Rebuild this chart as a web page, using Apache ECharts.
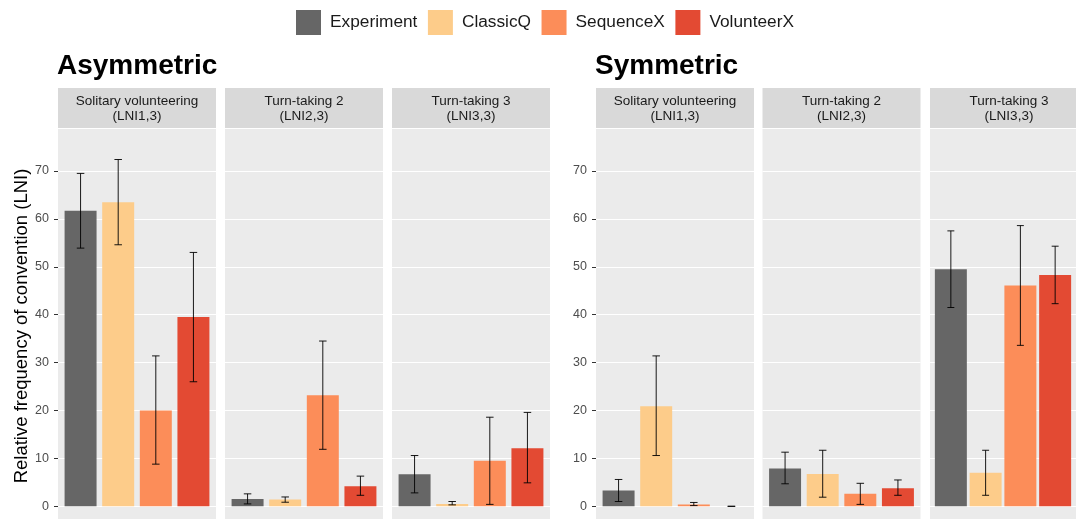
<!DOCTYPE html>
<html><head><meta charset="utf-8">
<script src="https://cdn.jsdelivr.net/npm/echarts@6/dist/echarts.min.js"></script>
<style>html,body{margin:0;padding:0;background:#fff}#c{width:1076px;height:519px}</style>
</head><body><div id="c"></div><script>
// ---------- data ----------
const categories = ['Experiment', 'ClassicQ', 'SequenceX', 'VolunteerX'];
const groupTitles = ['Asymmetric', 'Symmetric'];
const facetLabels = ['Solitary volunteering\n(LNI1,3)', 'Turn-taking 2\n(LNI2,3)', 'Turn-taking 3\n(LNI3,3)'];
const yTicks = [0, 10, 20, 30, 40, 50, 60, 70];
const yTitle = 'Relative frequency of convention (LNI)';
// panel order: Asym(Solitary, TT2, TT3), Sym(Solitary, TT2, TT3)
const meanExperiment = [61.7, 1.5, 6.7, 3.3, 7.9, 49.5];
const meanClassicQ   = [63.5, 1.4, 0.5, 20.9, 6.75, 7.0];
const meanSequenceX  = [20.0, 23.2, 9.5, 0.4, 2.6, 46.1];
const meanVolunteerX = [39.5, 4.2, 12.1, 0, 3.75, 48.3];
const lowExperiment  = [53.9, 0.5, 2.8, 1.0, 4.7, 41.5];
const lowClassicQ    = [54.6, 0.85, 0.3, 10.6, 1.9, 2.3];
const lowSequenceX   = [8.8, 11.9, 0.4, 0.15, 0.4, 33.6];
const lowVolunteerX  = [26.0, 2.3, 4.9, 0, 2.3, 42.3];
const highExperiment = [69.5, 2.6, 10.6, 5.6, 11.3, 57.5];
const highClassicQ   = [72.4, 1.95, 1.0, 31.4, 11.7, 11.7];
const highSequenceX  = [31.4, 34.5, 18.6, 0.8, 4.8, 58.6];
const highVolunteerX = [53.0, 6.3, 19.6, 0, 5.5, 54.3];

// ---------- styling / layout ----------
const colors = ['#666666', '#FDCC8A', '#FC8D59', '#E34A33'];
const FONT = "'Liberation Sans', Arial, Helvetica, sans-serif";
const means = [meanExperiment, meanClassicQ, meanSequenceX, meanVolunteerX];
const lows = [lowExperiment, lowClassicQ, lowSequenceX, lowVolunteerX];
const highs = [highExperiment, highClassicQ, highSequenceX, highVolunteerX];
const panelLeft = [58, 225, 392, 596, 762.5, 930];
const panelW = 158;
const plotTop = 171, plotH = 335.3;
const bgTop = 129, bgBottom = 519;
const stripTop = 88, stripH = 40;
const xMin = 0.4, xMax = 4.6;
const barW = 0.85 * panelW / (xMax - xMin);
const capHalf = 0.1;

const grids = [], xAxes = [], yAxes = [], series = [], graphics = [];
for (let p = 0; p < 6; p++) {
  const first = p % 3 === 0;
  grids.push({left: panelLeft[p], top: plotTop, width: panelW, height: plotH, containLabel: false});
  xAxes.push({gridIndex: p, type: 'value', min: xMin, max: xMax, show: false});
  yAxes.push({
    gridIndex: p, type: 'value', min: yTicks[0], max: yTicks[yTicks.length - 1], interval: 10,
    axisLine: {show: false},
    axisTick: {show: first, length: 4, lineStyle: {color: '#333333', width: 1}},
    axisLabel: {show: first, color: '#4D4D4D', fontSize: 12.5, margin: 9, fontFamily: FONT},
    splitLine: {show: true, lineStyle: {color: '#FFFFFF', width: 1.2}}
  });
  categories.forEach((name, c) => {
    series.push({
      type: 'bar', name, xAxisIndex: p, yAxisIndex: p,
      data: [[c + 1, means[c][p]]],
      barWidth: barW, barGap: '-100%',
      itemStyle: {color: colors[c]}, z: 2
    });
  });
  series.push({
    type: 'custom', xAxisIndex: p, yAxisIndex: p, z: 3, clip: false,
    encode: {x: 0, y: 1},
    data: categories.map((n, c) => [c + 1, lows[c][p], highs[c][p]]),
    renderItem(params, api) {
      const x = api.value(0), lo = api.value(1), hi = api.value(2);
      const a = api.coord([x, lo]), b = api.coord([x, hi]);
      const l = api.coord([x - capHalf, hi]), r = api.coord([x + capHalf, hi]);
      const h = (r[0] - l[0]) / 2;
      const st = {stroke: 'rgba(0,0,0,0.9)', lineWidth: 1};
      return {type: 'group', children: [
        {type: 'line', shape: {x1: a[0], y1: a[1], x2: b[0], y2: b[1]}, style: st},
        {type: 'line', shape: {x1: a[0] - h, y1: b[1], x2: a[0] + h, y2: b[1]}, style: st},
        {type: 'line', shape: {x1: a[0] - h, y1: a[1], x2: a[0] + h, y2: a[1]}, style: st}
      ]};
    }
  });
  // panel background and strip
  graphics.push({type: 'rect', z: -10, silent: true,
    shape: {x: panelLeft[p], y: bgTop, width: panelW, height: bgBottom - bgTop},
    style: {fill: '#EBEBEB'}});
  graphics.push({type: 'rect', z: -10, silent: true,
    shape: {x: panelLeft[p], y: stripTop, width: panelW, height: stripH},
    style: {fill: '#D9D9D9'}});
  graphics.push({type: 'text', z: 5, silent: true,
    x: panelLeft[p] + panelW / 2, y: stripTop + stripH / 2 + 0.8,
    style: {text: facetLabels[p % 3], fill: '#1A1A1A', fontSize: 13.5, fontFamily: FONT,
      lineHeight: 14.5, align: 'center', verticalAlign: 'middle',
      textAlign: 'center', textVerticalAlign: 'middle'}});
}
// group titles
groupTitles.forEach((t, g) => {
  graphics.push({type: 'text', silent: true, x: panelLeft[g * 3] - 1, y: 66,
    style: {text: t, fill: '#000', fontSize: 28, fontWeight: 'bold', fontFamily: FONT,
      align: 'left', verticalAlign: 'middle', textAlign: 'left', textVerticalAlign: 'middle'}});
});
// y axis title
graphics.push({type: 'text', silent: true, x: 22, y: 326, rotation: Math.PI / 2,
  style: {text: yTitle, fill: '#000', fontSize: 18.5, fontFamily: FONT,
    align: 'center', verticalAlign: 'middle', textAlign: 'center', textVerticalAlign: 'middle'}});

const chart = echarts.init(document.getElementById('c'), null, {renderer: 'canvas'});
chart.setOption({
  animation: false,
  backgroundColor: '#FFFFFF',
  legend: {
    data: categories, left: 291, top: 5, icon: 'rect',
    itemWidth: 25, itemHeight: 25, itemGap: 10.5,
    textStyle: {fontSize: 17.3, color: '#1A1A1A', fontFamily: FONT, padding: [0, 0, 0, 4]}
  },
  grid: grids, xAxis: xAxes, yAxis: yAxes, series, graphic: graphics
});
</script></body></html>
